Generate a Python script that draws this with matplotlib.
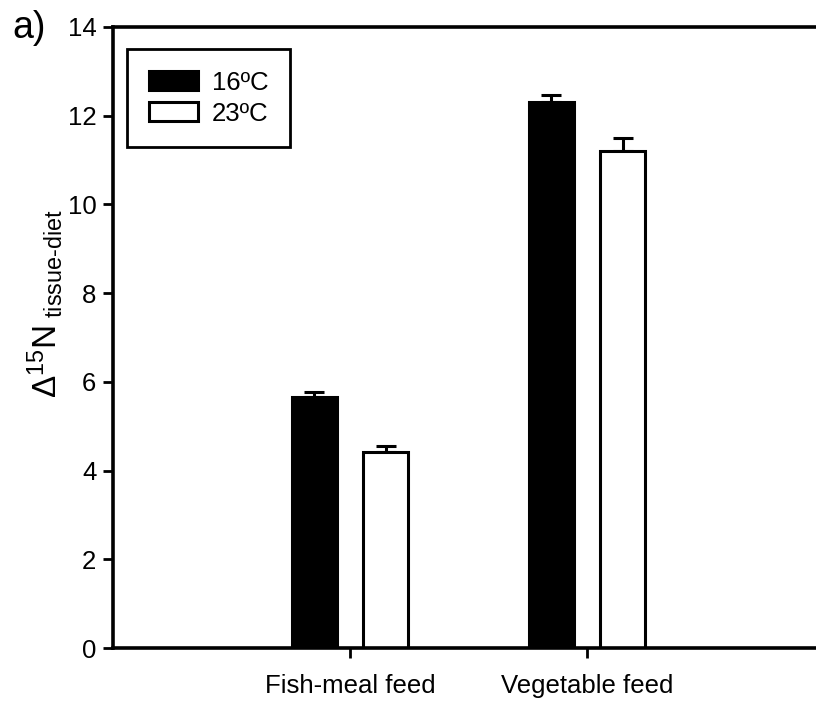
import matplotlib
matplotlib.use("Agg")
import matplotlib.pyplot as plt
import numpy as np

plt.rcParams['font.family'] = ['Liberation Sans', 'DejaVu Sans']
plt.rcParams['mathtext.fontset'] = 'custom'
plt.rcParams['mathtext.rm'] = 'Liberation Sans'
plt.rcParams['mathtext.it'] = 'Liberation Sans'

categories = ["Fish-meal feed", "Vegetable feed"]
series_labels = ["16ºC", "23ºC"]
values_16 = [5.65, 12.30]
errors_16 = [0.13, 0.17]
values_23 = [4.42, 11.20]
errors_23 = [0.14, 0.30]
yticks = [0, 2, 4, 6, 8, 10, 12, 14]

fig = plt.figure(figsize=(8.16, 7.04), dpi=100)
ax = fig.add_axes([113 / 816, 56 / 704, (3 * 237) / 816, (648 - 27) / 704])

x = np.arange(1, len(categories) + 1)
w = 0.19
off = 0.15
lw = 2.2
ax.bar(x - off, values_16, w, color='black', edgecolor='black', linewidth=lw,
       label=series_labels[0], zorder=2)
ax.bar(x + off, values_23, w, color='white', edgecolor='black', linewidth=lw,
       label=series_labels[1], zorder=2)
ax.errorbar(x - off, values_16, yerr=[np.zeros(2), errors_16], fmt='none',
            ecolor='black', elinewidth=lw, capsize=7, capthick=lw, zorder=1)
ax.errorbar(x + off, values_23, yerr=[np.zeros(2), errors_23], fmt='none',
            ecolor='black', elinewidth=lw, capsize=7, capthick=lw, zorder=1)

ax.set_xlim(0, 3)
ax.set_ylim(0, 14)
ax.set_yticks(yticks)
ax.set_xticks(x)
ax.set_xticklabels(categories)
ax.tick_params(axis='both', direction='out', length=7, width=2, labelsize=18.5,
               color='black')
ax.tick_params(axis='y', pad=5)
ax.tick_params(axis='x', pad=12)
for s in ['left', 'bottom', 'top']:
    ax.spines[s].set_linewidth(2.6)
ax.spines['right'].set_visible(False)

ax.set_ylabel(r"$\Delta^{15}$N$_{\ \mathrm{tissue\text{-}diet}}$", fontsize=24)
ax.yaxis.set_label_coords(-0.068, 0.554)

leg = ax.legend(loc='upper left', bbox_to_anchor=(0.02, 0.965), fontsize=18.5,
                frameon=True, fancybox=False, edgecolor='black', framealpha=1,
                handlelength=1.9, handleheight=0.75, handletextpad=0.55,
                borderpad=0.85, labelspacing=0.27, borderaxespad=0)
leg.get_frame().set_linewidth(2)

fig.text(12 / 816, 1 - 38 / 704, "a)", fontsize=27)

fig.savefig("out.png", dpi=100)
